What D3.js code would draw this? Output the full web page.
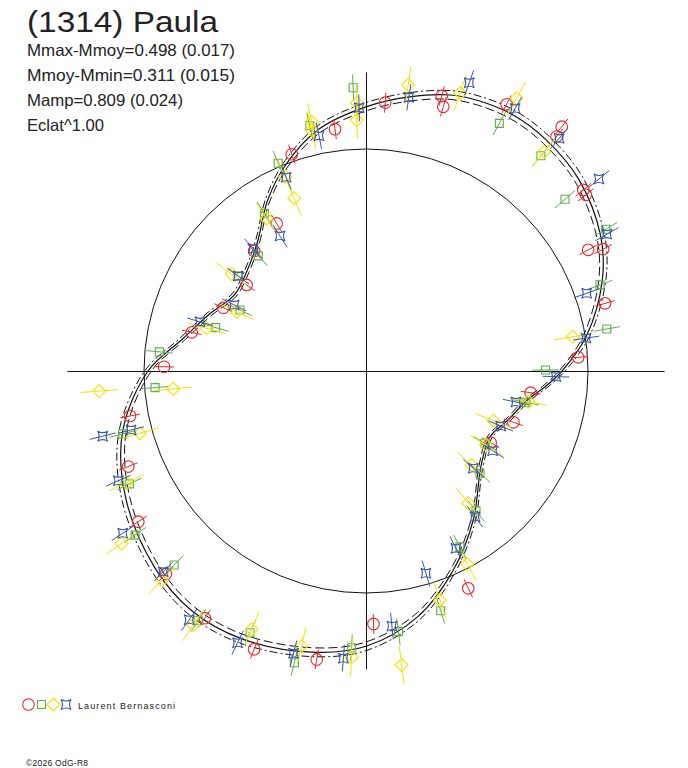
<!DOCTYPE html>
<html>
<head>
<meta charset="utf-8">
<script src="https://cdn.jsdelivr.net/npm/d3@7"></script>
<style>
  html, body { margin: 0; padding: 0; background: #fff; }
  svg { display: block; }
  text { font-family: "Liberation Sans", Arial, sans-serif; fill: #222; }
</style>
</head>
<body>
<script>
// ---------- Texts ----------
const titleText = "(1314) Paula";
const infoLines = ["Mmax-Mmoy=0.498 (0.017)", "Mmoy-Mmin=0.311 (0.015)", "Mamp=0.809 (0.024)", "Eclat^1.00"];
const observer = "Laurent Bernasconi";
const copyright = "\u00A92026 OdG-R8";

// ---------- Fitted curve (phase in degrees, relative brightness, mean = 1) ----------
const curvePhase = [0, 9, 17, 23, 30, 38, 48, 60, 69, 81, 90, 95, 100, 109, 118, 130, 144, 156, 168, 180, 191, 205, 216, 227, 242, 256, 270, 280, 290, 300, 310, 320, 330, 339, 349];
const curveFlux  = [1.19, 1.25, 1.30, 1.32, 1.33, 1.32, 1.29, 1.22, 1.14, 1.005, 0.883, 0.81, 0.74, 0.677, 0.632, 0.675, 0.824, 0.975, 1.13, 1.24, 1.29, 1.33, 1.335, 1.30, 1.225, 1.13, 0.982, 0.838, 0.75, 0.685, 0.70, 0.76, 0.887, 1.0, 1.11];
const envelopeMag = 0.017;
const axisExtent = 1.345;

// ---------- Observations: 4 sessions ----------
const redPhase = [4.1, 15.4, 16.3, 352.7, 341.1, 27.8, 38.7, 39.1, 50.2, 51.3, 61.4, 62.8, 74.2, 86.3, 97.5, 109.2, 119.9, 154.8, 178.3, 189.7, 201.9, 213.1, 224.6, 236.5, 248.1, 259.2, 271.2, 282.5, 293.9, 305.8, 317.0, 328.8];
const redFlux  = [1.212, 1.285, 1.240, 1.098, 1.032, 1.358, 1.410, 1.361, 1.274, 1.269, 1.140, 1.201, 1.119, 0.958, 0.748, 0.703, 0.648, 1.082, 1.140, 1.318, 1.351, 1.329, 1.284, 1.230, 1.154, 1.082, 0.910, 0.804, 0.703, 0.663, 0.739, 0.777];
const redErr = 0.045;

const greenPhase = [357.4, 347.1, 337.1, 28.3, 39.1, 49.2, 59.4, 69.8, 80.1, 89.7, 101.1, 121.3, 131.9, 141.8, 151.9, 162.7, 172.9, 183.0, 193.8, 203.9, 213.9, 224.7, 234.6, 244.5, 255.5, 265.5, 275.3, 286.1, 295.8, 306.6, 316.9, 327.2];
const greenFlux  = [1.277, 1.133, 1.016, 1.267, 1.249, 1.184, 1.255, 1.123, 1.101, 0.809, 0.734, 0.627, 0.690, 0.801, 0.898, 1.131, 1.183, 1.248, 1.353, 1.290, 1.355, 1.229, 1.276, 1.181, 1.132, 0.953, 0.935, 0.705, 0.631, 0.717, 0.710, 0.845];
const greenErr = 0.06;

const yellowPhase = [358.1, 357.9, 8.4, 18.7, 347.7, 337.4, 28.9, 39.1, 80.6, 100.7, 111.3, 121.7, 131.6, 142.3, 152.3, 162.1, 173.1, 182.9, 193.2, 203.9, 214.2, 224.3, 234.8, 245.0, 254.6, 265.7, 264.7, 285.0, 294.6, 305.8, 326.9, 337.4, 347.3];
const yellowFlux  = [1.208, 1.131, 1.302, 1.322, 1.149, 0.948, 1.403, 1.273, 0.944, 0.744, 0.616, 0.635, 0.637, 0.753, 0.982, 1.084, 1.334, 1.291, 1.272, 1.272, 1.384, 1.317, 1.347, 1.190, 1.056, 1.205, 0.872, 0.743, 0.641, 0.746, 0.820, 0.843, 1.113];
const yellowErr = 0.085;

const bluePhase = [358.5, 8.9, 19.7, 348.7, 337.6, 29.6, 39.7, 50.5, 60.4, 70.6, 81.5, 91.7, 101.7, 112.2, 122.2, 132.2, 143.2, 153.1, 163.5, 174.2, 184.5, 194.4, 205.3, 215.4, 225.3, 236.3, 246.1, 256.1, 255.9, 286.5, 296.6, 317.4, 327.5, 306.6];
const blueFlux  = [1.186, 1.248, 1.379, 1.080, 0.944, 1.360, 1.362, 1.360, 1.248, 1.054, 1.002, 0.856, 0.690, 0.655, 0.674, 0.652, 0.820, 0.896, 0.950, 1.155, 1.298, 1.313, 1.354, 1.375, 1.285, 1.317, 1.220, 1.222, 1.091, 0.780, 0.664, 0.750, 0.721, 0.717];
const blueErr = 0.06;

const sessionNames = ["red", "green", "yellow", "blue"];
const sessionColors = ["#e8282e", "#5cb04a", "#f2e400", "#3a56a8"];
const sessionShapes = ["circle", "square", "diamond", "star"];

// ---------- Setup ----------
const W = 688, H = 768;
const cx = 366, cy = 371;
const svg = d3.select("body").append("svg").attr("width", W).attr("height", H);

const rScale = d3.scaleLinear().domain([0, 1]).range([0, 222]);
const toRad = d3.scaleLinear().domain([0, 360]).range([0, 2 * Math.PI]);

const g = svg.append("g").attr("transform", `translate(${cx},${cy})`);

function px(phase, f) { return rScale(f) * Math.sin(toRad(phase)); }
function py(phase, f) { return -rScale(f) * Math.cos(toRad(phase)); }

// Axes
const ext = rScale(axisExtent);
g.append("line").attr("x1", -ext).attr("x2", ext).attr("y1", 0.5).attr("y2", 0.5)
  .attr("stroke", "#111").attr("stroke-width", 1);
g.append("line").attr("x1", 0.5).attr("x2", 0.5).attr("y1", -ext).attr("y2", ext)
  .attr("stroke", "#111").attr("stroke-width", 1);

// Reference circle (mean brightness)
g.append("circle").attr("r", rScale(1)).attr("fill", "none").attr("stroke", "#111").attr("stroke-width", 1);

// Curve
const curveData = curvePhase.map((p, i) => ({ p, f: curveFlux[i] }));
const radial = k => d3.lineRadial()
  .angle(d => toRad(d.p))
  .radius(d => rScale(d.f * k))
  .curve(d3.curveCatmullRomClosed.alpha(0.5));

const kOut = Math.pow(10, 0.4 * envelopeMag), kIn = Math.pow(10, -0.4 * envelopeMag);
g.append("path").attr("d", radial(kOut)(curveData)).attr("fill", "none")
  .attr("stroke", "#111").attr("stroke-width", 1).attr("stroke-dasharray", "8,3,2,3");
g.append("path").attr("d", radial(kIn)(curveData)).attr("fill", "none")
  .attr("stroke", "#111").attr("stroke-width", 1).attr("stroke-dasharray", "9,4");
g.append("path").attr("d", radial(1)(curveData)).attr("fill", "none")
  .attr("stroke", "#111").attr("stroke-width", 1.2);

// Marker shapes
function shapePath(shape) {
  if (shape === "square") return "M-4,-4H4V4H-4Z";
  if (shape === "diamond") return "M0,-6.5L6.5,0L0,6.5L-6.5,0Z";
  if (shape === "star") return "M-5,-5Q0,-2 5,-5Q2,0 5,5Q0,2 -5,5Q-2,0 -5,-5Z";
  return null;
}
function drawMarker(sel, shape, color) {
  if (shape === "circle") {
    sel.append("circle").attr("r", 5.8).attr("fill", "none").attr("stroke", color).attr("stroke-width", 1.1);
  } else {
    sel.append("path").attr("d", shapePath(shape)).attr("fill", "none").attr("stroke", color).attr("stroke-width", 1.1);
  }
}

const sessions = [
  { phase: redPhase, flux: redFlux, err: redErr },
  { phase: greenPhase, flux: greenFlux, err: greenErr },
  { phase: yellowPhase, flux: yellowFlux, err: yellowErr },
  { phase: bluePhase, flux: blueFlux, err: blueErr }
];

sessions.forEach((s, si) => {
  const color = sessionColors[si], shape = sessionShapes[si];
  const data = s.phase.map((p, i) => ({ p, f: s.flux[i] }));
  const sg = g.append("g").attr("class", "session-" + sessionNames[si]);
  sg.selectAll("line.err").data(data).enter().append("line")
    .attr("class", "err")
    .attr("x1", d => px(d.p, d.f - s.err)).attr("y1", d => py(d.p, d.f - s.err))
    .attr("x2", d => px(d.p, d.f + s.err)).attr("y2", d => py(d.p, d.f + s.err))
    .attr("stroke", color).attr("stroke-width", 1);
  sg.selectAll("g.mk").data(data).enter().append("g")
    .attr("class", "mk")
    .attr("transform", d => `translate(${px(d.p, d.f)},${py(d.p, d.f)})`)
    .each(function () { drawMarker(d3.select(this), shape, color); });
});

// Texts
svg.append("text").attr("x", 27).attr("y", 32).attr("font-size", 29)
  .attr("textLength", 191).attr("lengthAdjust", "spacingAndGlyphs").text(titleText);
const lineY = [56, 81, 106, 131];
const lineLen = [208, 208, 156, 77];
infoLines.forEach((t, i) => {
  svg.append("text").attr("x", 27).attr("y", lineY[i]).attr("font-size", 16.5)
    .attr("textLength", lineLen[i]).attr("lengthAdjust", "spacingAndGlyphs").text(t);
});

// Legend
const legend = svg.append("g");
const legendX = [28.5, 41.5, 53.5, 66];
sessionShapes.forEach((sh, i) => {
  const lg = legend.append("g").attr("transform", `translate(${legendX[i]},704.5)`);
  drawMarker(lg, sh, sessionColors[i]);
});
legend.append("text").attr("x", 78).attr("y", 708.5).attr("font-size", 9)
  .attr("textLength", 97).attr("lengthAdjust", "spacing").text(observer);
svg.append("text").attr("x", 26).attr("y", 766).attr("font-size", 8.5)
  .attr("textLength", 62).attr("lengthAdjust", "spacing").text(copyright);
</script>
</body>
</html>
